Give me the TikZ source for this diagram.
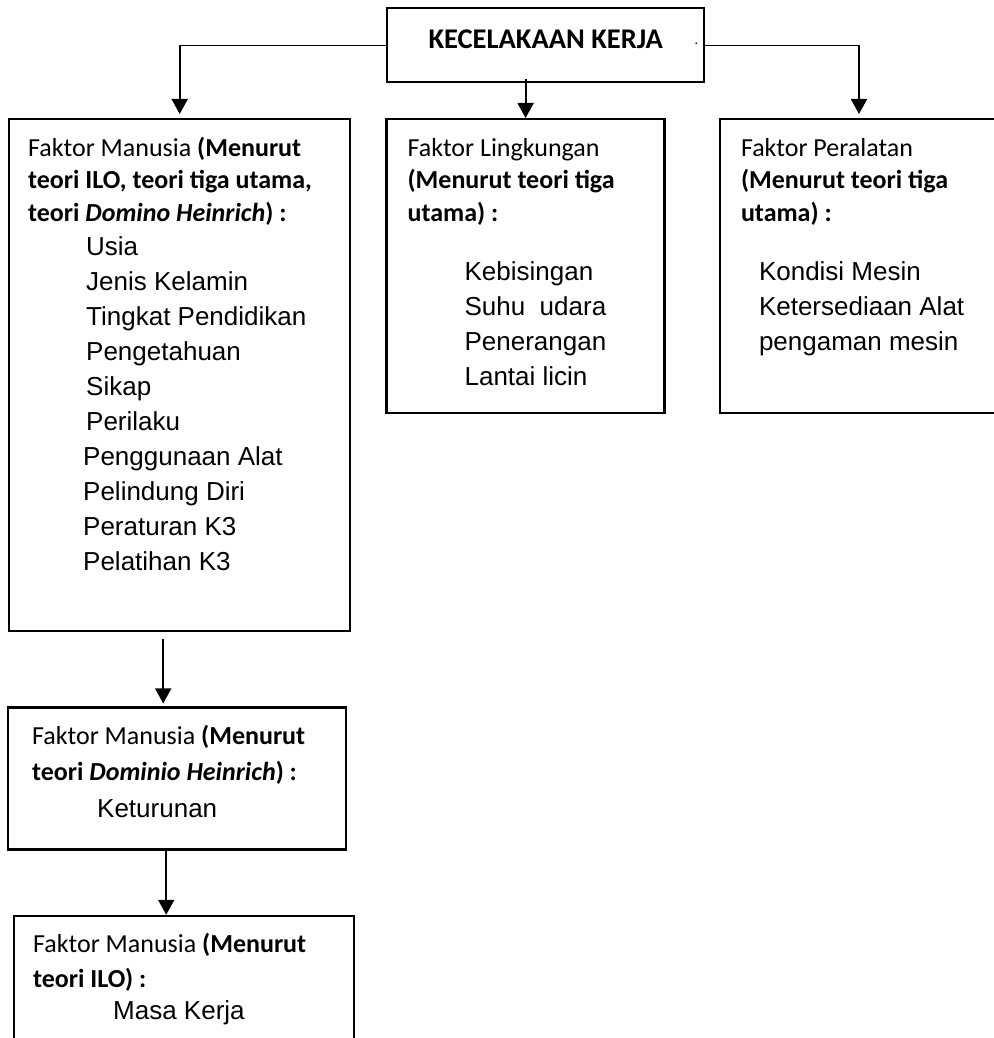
\documentclass[tikz,border=0pt]{standalone}
\usepackage{fontspec}
\setmainfont{Carlito}
\newfontfamily\arialfont{Liberation Sans}
\usetikzlibrary{positioning,arrows.meta}

\begin{document}
\begin{tikzpicture}[
    box/.style={draw, line width=2.4pt, inner sep=0pt, anchor=north west},
    head/.style={anchor=base west, inner sep=0pt, align=flush left, text width=330pt,
      font=\fontsize{26}{32.5}\selectfont},
    item/.style={anchor=base west, inner sep=0pt, align=flush left, text width=300pt,
      font=\arialfont\fontsize{26}{35}\selectfont},
    link/.style={line width=1pt},
    arr/.style={line width=1.8pt, -{Triangle[width=16pt,length=15pt]}}
  ]
  \path[use as bounding box, fill=white] (0,0) rectangle (993pt,-1038pt);

  \node[box, minimum width=317pt, minimum height=74pt] (kec) at (386pt,-7pt) {};
  \node[box, minimum width=341pt, minimum height=512pt] (fm) at (8pt,-118pt) {};
  \node[box, minimum width=278pt, minimum height=294pt, right=34pt of fm.north east, anchor=north west] (fl) {};
  \node[box, minimum width=278pt, minimum height=294pt, right=53pt of fl.north east, anchor=north west] (fp) {};
  \node[box, minimum width=338pt, minimum height=142pt, below=74pt of fm.south west, anchor=north west, xshift=-1pt] (fm2) {};
  \node[box, minimum width=340pt, minimum height=200pt, below=64pt of fm2.south west, anchor=north west, xshift=6pt] (fm3) {};

  \node[font=\bfseries\fontsize{28.5}{34}\selectfont] (kect) at ([yshift=6pt]kec.center) {KECELAKAAN KERJA};
  \node[font=\fontsize{14}{16}\selectfont, inner sep=0pt] (kecd) at ([shift={(-9pt,1pt)}]kec.east) {.};

  \node[head] (fmh) at ([shift={(20pt,-38pt)}]fm.north west)
    {Faktor Manusia \textbf{(Menurut}\\ \textbf{teori ILO, teori tiga utama,}\\ \textbf{teori \textit{Domino Heinrich}) :}};
  \node[item] (fmi) at ([shift={(78pt,-137pt)}]fm.north west)
    {Usia\\ Jenis Kelamin\\ Tingkat Pendidikan\\ Pengetahuan\\ Sikap\\ Perilaku\\
     \hspace*{-3pt}Penggunaan Alat\\ \hspace*{-3pt}Pelindung Diri\\ \hspace*{-3pt}Peraturan K3\\ \hspace*{-3pt}Pelatihan K3};

  \node[head] (flh) at ([shift={(22pt,-38pt)}]fl.north west)
    {Faktor Lingkungan\\ \textbf{(Menurut teori tiga}\\ \textbf{utama) :}};
  \node[item] (fli) at ([shift={(79pt,-162pt)}]fl.north west)
    {Kebisingan\\ Suhu\ \ udara\\ Penerangan\\ Lantai licin};

  \node[head] (fph) at ([shift={(22pt,-38pt)}]fp.north west)
    {Faktor Peralatan\\ \textbf{(Menurut teori tiga}\\ \textbf{utama) :}};
  \node[item] (fpi) at ([shift={(40pt,-162pt)}]fp.north west)
    {Kondisi Mesin\\ Ketersediaan Alat\\ pengaman mesin};

  \node[head, font=\fontsize{26}{36}\selectfont] (fm2h) at ([shift={(25pt,-38pt)}]fm2.north west)
    {Faktor Manusia \textbf{(Menurut}\\ \textbf{teori \textit{Dominio Heinrich}) :}};
  \node[item] (fm2i) at ([shift={(90pt,-111pt)}]fm2.north west) {Keturunan};

  \node[head, font=\fontsize{26}{35}\selectfont] (fm3h) at ([shift={(20pt,-38pt)}]fm3.north west)
    {Faktor Manusia \textbf{(Menurut}\\ \textbf{teori ILO) :}};
  \node[item] (fm3i) at ([shift={(100pt,-105pt)}]fm3.north west) {Masa Kerja};

  \draw[link] (kec.west) -- (kec.west -| fm.north) coordinate (lc);
  \draw[arr, shorten >=4pt] (lc) -- (fm.north);
  \draw[link] (kec.east) -- (kec.east -| fp.north) coordinate (rc);
  \draw[arr, shorten >=4pt] (rc) -- (fp.north);
  \draw[arr, shorten <=-4pt] (kec.south -| fl.north) -- (fl.north);
  \draw[arr, shorten <=7pt, shorten >=3pt] ([xshift=-16.5pt]fm.south) -- ([xshift=-16.5pt]fm.south |- fm2.north);
  \draw[arr] ([xshift=-11pt]fm2.south) -- ([xshift=-11pt]fm2.south |- fm3.north);
\end{tikzpicture}
\end{document}
